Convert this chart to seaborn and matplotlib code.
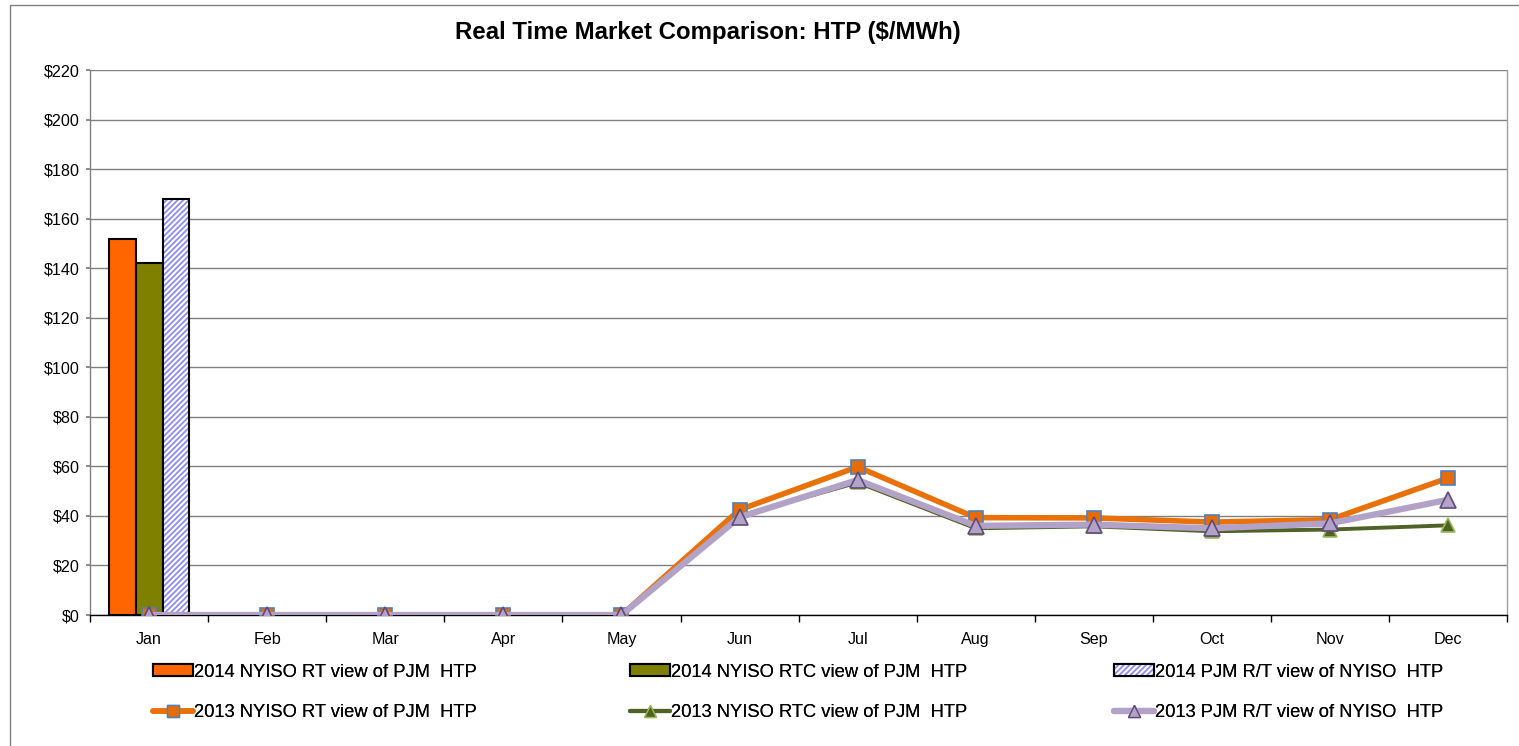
import numpy as np
import pandas as pd
import matplotlib
matplotlib.use("Agg")
import matplotlib.pyplot as plt
from matplotlib.lines import Line2D
from matplotlib.patches import Patch, Rectangle
from matplotlib.legend_handler import HandlerPatch
import seaborn as sns

months = ["Jan", "Feb", "Mar", "Apr", "May", "Jun", "Jul", "Aug", "Sep", "Oct", "Nov", "Dec"]
bar_labels = ["2014 NYISO RT view of PJM  HTP", "2014 NYISO RTC view of PJM  HTP", "2014 PJM R/T view of NYISO  HTP"]
bar_values = [151.8, 142.2, 168.0]

line_labels = ["2013 NYISO RT view of PJM  HTP", "2013 NYISO RTC view of PJM  HTP", "2013 PJM R/T view of NYISO  HTP"]
rt_2013 = [0, 0, 0, 0, 0, 42.5, 59.8, 39.3, 39.2, 37.5, 38.5, 55.3]
rtc_2013 = [0, 0, 0, 0, 0, 40.0, 53.5, 35.0, 35.8, 33.8, 34.5, 36.2]
pjm_2013 = [0, 0, 0, 0, 0, 39.5, 54.5, 36.0, 36.5, 35.0, 37.0, 46.5]
yticks = list(range(0, 221, 20))

sns.set_theme(style="white")
plt.rcParams['font.family'] = ['Liberation Sans', 'DejaVu Sans']
plt.rcParams['text.color'] = 'black'
plt.rcParams['xtick.color'] = 'black'
plt.rcParams['ytick.color'] = 'black'
plt.rcParams['hatch.linewidth'] = 1.3

HATCH_BLUE = "#8C8CF5"

fig = plt.figure(figsize=(15.19, 7.46), dpi=100)
ax = fig.add_axes([0.0593, 0.1756, 0.9329, 0.7305])

bar_colors = ["#FF6600", "#808000", "#FFFFFF"]
bar_df = pd.DataFrame({"month": ["Jan"] * 3, "series": bar_labels, "value": bar_values})
sns.barplot(data=bar_df, x="month", y="value", hue="series", order=months,
            hue_order=bar_labels, palette=bar_colors, width=0.68, ax=ax,
            edgecolor="black", linewidth=1.5, legend=False, saturation=1)
bars = [p for p in ax.patches if isinstance(p, Rectangle) and p.get_height() > 0]
bars.sort(key=lambda p: p.get_x())
if len(bars) >= 3:
    b = bars[2]
    b.set_hatch("//////")
    b.set_edgecolor(HATCH_BLUE)
    b.set_linewidth(0)
    ax.add_patch(Rectangle((b.get_x(), b.get_y()), b.get_width(), b.get_height(),
                           fill=False, edgecolor="black", linewidth=1.5, zorder=b.get_zorder() + 0.1))

x = np.arange(len(months))
line_df = pd.DataFrame({
    "x": np.tile(x, 3),
    "value": rt_2013 + rtc_2013 + pjm_2013,
    "series": np.repeat(line_labels, len(months)),
})
sns.lineplot(data=line_df[line_df.series == line_labels[1]], x="x", y="value", ax=ax,
             color="#4F6228", linewidth=2.8, marker="^", markersize=10,
             markerfacecolor="#4F6228", markeredgecolor="#9BBB59", markeredgewidth=1.2,
             legend=False, zorder=3)
sns.lineplot(data=line_df[line_df.series == line_labels[0]], x="x", y="value", ax=ax,
             color="#E8710A", linewidth=4, marker="s", markersize=10,
             markerfacecolor="#E46C0A", markeredgecolor="#4F81BD", markeredgewidth=1.2,
             legend=False, zorder=4)
sns.lineplot(data=line_df[line_df.series == line_labels[2]], x="x", y="value", ax=ax,
             color="#B3A2C7", linewidth=4.5, marker="^", markersize=11,
             markerfacecolor="#B3A2C7", markeredgecolor="#604A7B", markeredgewidth=1.2,
             legend=False, zorder=5)

ax.set_xlim(-0.5, 11.5)
ax.set_ylim(0, 220)
ax.set_yticks(yticks)
ax.set_yticklabels([f"${v}" for v in yticks], fontsize=11.6)
ax.set_xticks(x)
ax.set_xticklabels(months, fontsize=11.6)
ax.set_xticks(np.arange(-0.5, 12, 1), minor=True)
ax.tick_params(axis="x", which="major", length=0, pad=12.5)
ax.tick_params(axis="x", which="minor", length=5, color="black", direction="out", bottom=True)
ax.tick_params(axis="y", length=3, color="#808080", direction="out", left=True, pad=4.6)
ax.set_xlabel("")
ax.set_ylabel("")
ax.yaxis.grid(True, color="#808080", linewidth=1)
ax.set_axisbelow(True)
ax.spines["top"].set_visible(False)
ax.spines["right"].set_color("#A0A0A0")
ax.spines["left"].set_color("#808080")
ax.spines["bottom"].set_color("black")
for s in ["left", "bottom", "right"]:
    ax.spines[s].set_linewidth(1)

fig.text(0.466, 0.957, "Real Time Market Comparison: HTP ($/MWh)", ha="center", va="center",
         fontsize=17.3, fontweight="bold")


class HatchHandler(HandlerPatch):
    def create_artists(self, legend, orig_handle, xdescent, ydescent, width, height, fontsize, trans):
        p1 = Rectangle((-xdescent, -ydescent), width, height, facecolor="white",
                       edgecolor=HATCH_BLUE, hatch="//////", linewidth=0, transform=trans)
        p2 = Rectangle((-xdescent, -ydescent), width, height, fill=False,
                       edgecolor="black", linewidth=1.5, transform=trans)
        return [p1, p2]


hatch_handle = Patch(facecolor="white", edgecolor="black", hatch="//////")
handles = [
    (Patch(facecolor="#FF6600", edgecolor="black", linewidth=1.5),
     Line2D([], [], color="#E8710A", linewidth=4, marker="s", markersize=9,
            markerfacecolor="#E46C0A", markeredgecolor="#4F81BD")),
    (Patch(facecolor="#808000", edgecolor="black", linewidth=1.5),
     Line2D([], [], color="#4F6228", linewidth=3, marker="^", markersize=9,
            markerfacecolor="#4F6228", markeredgecolor="#9BBB59")),
    (hatch_handle,
     Line2D([], [], color="#B3A2C7", linewidth=4.5, marker="^", markersize=9,
            markerfacecolor="#B3A2C7", markeredgecolor="#604A7B")),
]
xs = [153 / 1519, 630 / 1519, 1114 / 1519]
fs = 13.2
em = fs * 100 / 72
for i in range(3):
    leg = fig.legend(list(handles[i]), [bar_labels[i], line_labels[i]], loc="upper left",
                     bbox_to_anchor=(xs[i], 0.1105), frameon=False,
                     prop={"family": ["Liberation Sans", "DejaVu Sans"], "size": fs},
                     handlelength=40 / em, handleheight=0.6, handletextpad=0.06, labelspacing=1.3,
                     borderaxespad=0, borderpad=0,
                     handler_map={hatch_handle: HatchHandler()})
    fig.add_artist(leg)

fig.add_artist(Rectangle((10 / 1519, -0.05), 1.2, 1 - 5 / 746 + 0.05, transform=fig.transFigure,
                         fill=False, edgecolor="#808080", linewidth=1))

fig.savefig("out.png", dpi=100)
